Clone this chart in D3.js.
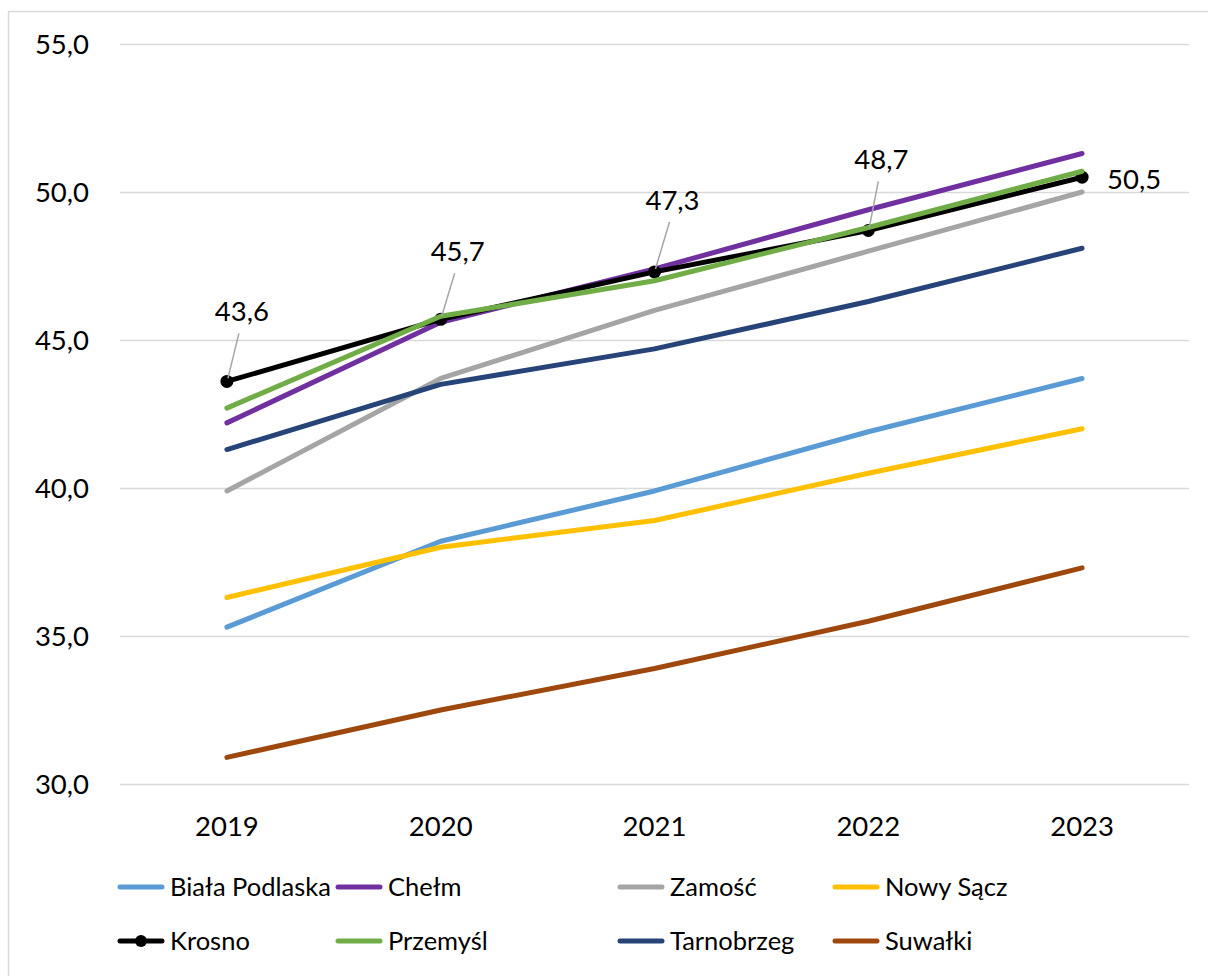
<!DOCTYPE html>
<html>
<head>
<meta charset="utf-8">
<script src="https://cdn.jsdelivr.net/npm/d3@7"></script>
<style>
html,body{margin:0;padding:0;background:#fff;}
svg{display:block;}
text{font-family:Lato,"Noto Sans",sans-serif;fill:#000;}
</style>
</head>
<body>
<svg id="chart" width="1208" height="976"></svg>
<script>
const years = ["2019","2020","2021","2022","2023"];
const yTicks = [30,35,40,45,50,55];
const bialaPodlaska = [35.3,38.2,39.9,41.9,43.7];
const chelm        = [42.2,45.6,47.4,49.4,51.3];
const zamosc       = [39.9,43.7,46.0,48.0,50.0];
const nowySacz     = [36.3,38.0,38.9,40.5,42.0];
const krosno       = [43.6,45.7,47.3,48.7,50.5];
const przemysl     = [42.7,45.8,47.0,48.8,50.7];
const tarnobrzeg   = [41.3,43.5,44.7,46.3,48.1];
const suwalki      = [30.9,32.5,33.9,35.5,37.3];
const seriesNames  = ["Biała Podlaska","Chełm","Zamość","Nowy Sącz","Krosno","Przemyśl","Tarnobrzeg","Suwałki"];
const seriesColors = ["#5b9bd5","#7030a0","#a5a5a5","#ffc000","#000000","#70ad47","#264478","#9e480e"];

const series = [bialaPodlaska,chelm,zamosc,nowySacz,krosno,przemysl,tarnobrzeg,suwalki]
  .map((v,i)=>({name:seriesNames[i],color:seriesColors[i],values:v,markers:seriesNames[i]==="Krosno"}));

const FS = 27.5;
const LFS = 25.5;
const svg = d3.select("#chart");
const fmt = v => d3.format(".1f")(v).replace(".", ",");

svg.append("rect").attr("x",8.5).attr("y",11.5).attr("width",1220).attr("height",1000)
  .attr("fill","#fff").attr("stroke","#d9d9d9").attr("stroke-width",1.5);

const x = d3.scaleBand().domain(years).range([120,1189]);
const y = d3.scaleLinear().domain([30,55]).range([784,44]);
const cx = d => x(d) + x.bandwidth()/2;

svg.append("g").selectAll("line").data(yTicks).join("line")
  .attr("x1",120).attr("x2",1189)
  .attr("y1",d=>Math.round(y(d))+0.5).attr("y2",d=>Math.round(y(d))+0.5)
  .attr("stroke","#d9d9d9").attr("stroke-width",1.5);

const yAxis = d3.axisLeft(y).tickValues(yTicks).tickFormat(fmt).tickSize(0).tickPadding(0);
const gy = svg.append("g").attr("transform","translate(89,0)").call(yAxis);
gy.select(".domain").remove();
gy.selectAll("text").attr("font-size",FS).attr("fill","#000").attr("dy","0.36em");

const xAxis = d3.axisBottom(x).tickSize(0).tickPadding(0);
const gx = svg.append("g").attr("transform","translate(0,826)").call(xAxis);
gx.select(".domain").remove();
gx.selectAll("text").attr("font-size",FS).attr("fill","#000").attr("dy","0.36em");
svg.selectAll("g").attr("font-family",null).attr("font-size",null);

const line = d3.line().x((d,i)=>cx(years[i])).y(d=>y(d));
series.forEach(s=>{
  svg.append("path").datum(s.values).attr("d",line)
    .attr("fill","none").attr("stroke",s.color).attr("stroke-width",5)
    .attr("stroke-linecap","round").attr("stroke-linejoin","round");
  if(s.markers){
    svg.append("g").selectAll("circle").data(s.values).join("circle")
      .attr("cx",(d,i)=>cx(years[i])).attr("cy",d=>y(d)).attr("r",6.5).attr("fill","#000");
  }
});

// label placement relative to each Krosno point: [dx, dy, draw leader]
const labelOffsets = [[15,-70,true],[17,-68,true],[18,-72,true],[13,-71,true],[52,2,false]];
const lab = svg.append("g");
krosno.forEach((v,i)=>{
  const px = cx(years[i]), py = y(v);
  const [dx,dy,leader] = labelOffsets[i];
  if(leader){
    lab.append("line").attr("x1",px+dx-3).attr("y1",py+dy+22).attr("x2",px+1).attr("y2",py-3)
      .attr("stroke","#a6a6a6").attr("stroke-width",1.5);
  }
  lab.append("text").attr("x",px+dx).attr("y",py+dy).attr("dy","0.36em")
    .attr("text-anchor","middle").attr("font-size",FS).text(fmt(v));
});

const legX = [118,336,618,833];
const legY = [887,941];
const leg = svg.append("g");
series.forEach((s,i)=>{
  const lx = legX[i%4], ly = legY[Math.floor(i/4)];
  const g = leg.append("g").attr("transform",`translate(${lx},${ly})`);
  g.append("line").attr("x1",2).attr("x2",44).attr("y1",0).attr("y2",0)
    .attr("stroke",s.color).attr("stroke-width",5).attr("stroke-linecap","round");
  if(s.markers) g.append("circle").attr("cx",23).attr("cy",0).attr("r",6).attr("fill","#000");
  g.append("text").attr("x",52).attr("y",0).attr("dy","0.36em").attr("font-size",LFS).text(s.name);
});
</script>
</body>
</html>
